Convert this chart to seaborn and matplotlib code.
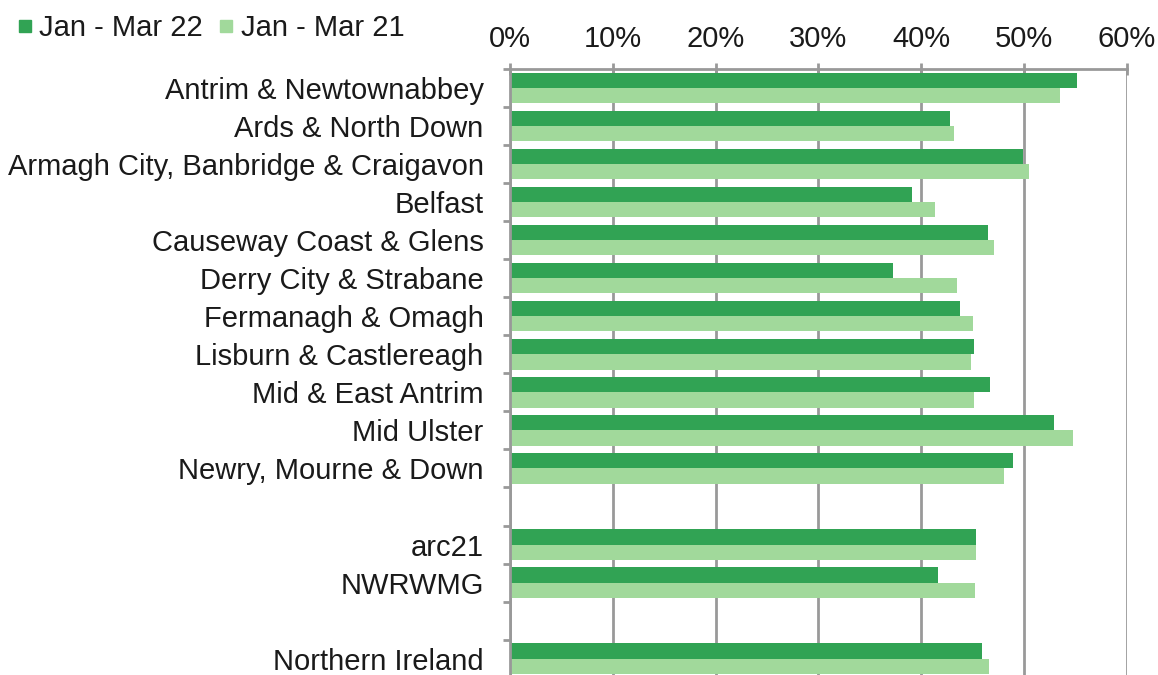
import pandas as pd
import numpy as np
import matplotlib.pyplot as plt
from matplotlib.lines import Line2D
from matplotlib.ticker import FuncFormatter
import seaborn as sns

# data (percent)
areas = ["Antrim & Newtownabbey", "Ards & North Down", "Armagh City, Banbridge & Craigavon",
         "Belfast", "Causeway Coast & Glens", "Derry City & Strabane", "Fermanagh & Omagh",
         "Lisburn & Castlereagh", "Mid & East Antrim", "Mid Ulster", "Newry, Mourne & Down",
         "arc21", "NWRWMG", "Northern Ireland"]
jan_mar_22 = [55.1, 42.8, 49.9, 39.1, 46.5, 37.2, 43.8, 45.1, 46.7, 52.9, 48.9, 45.3, 41.6, 45.9]
jan_mar_21 = [53.5, 43.2, 50.5, 41.3, 47.1, 43.5, 45.0, 44.8, 45.1, 54.8, 48.0, 45.3, 45.2, 46.6]
periods = ["Jan - Mar 22", "Jan - Mar 21"]
colours = ["#31a354", "#a1d99b"]

# blank rows between groups
order = areas[:11] + [" "] + areas[11:13] + ["  "] + areas[13:]

df = pd.DataFrame({
    "area": areas * 2,
    "rate": jan_mar_22 + jan_mar_21,
    "period": [periods[0]] * len(areas) + [periods[1]] * len(areas),
})

sns.set_theme(style="white")
plt.rcParams['font.family'] = ['Liberation Sans', 'DejaVu Sans']
grey = "#999999"
txt = "#1a1a1a"

fig = plt.figure(figsize=(11.58, 6.75), dpi=100)
ax = fig.add_axes([0.4404, -0.004, 0.5328, 0.9018])

sns.barplot(data=df, y="area", x="rate", hue="period", order=order, hue_order=periods,
            palette=colours, saturation=1, width=0.8, linewidth=0, legend=False, ax=ax)

ax.set_xlim(0, 60)
ax.set_ylim(len(order) - 0.5, -0.5)
ax.set_xticks(range(0, 61, 10))
ax.xaxis.set_major_formatter(FuncFormatter(lambda v, p: f"{v:.0f}%"))
ax.xaxis.tick_top()
ax.set_xlabel("")
ax.set_ylabel("")

ax.xaxis.grid(True, color=grey, lw=2)
ax.set_axisbelow(True)
for s in ["right", "bottom"]:
    ax.spines[s].set_visible(False)
for s in ["top", "left"]:
    ax.spines[s].set_color(grey)
    ax.spines[s].set_linewidth(2)

ax.tick_params(axis='x', top=True, direction='inout', length=9, width=2, color=grey,
               labelsize=21, labelcolor=txt, pad=7)
ax.set_yticks(np.arange(-0.5, len(order), 1), minor=True)
ax.tick_params(axis='y', which='major', length=0, pad=19, labelsize=21, labelcolor=txt)
ax.tick_params(axis='y', which='minor', left=True, length=5, width=2, color=grey, direction='out')

handles = [Line2D([], [], marker='s', ls='none', ms=9, color=c) for c in colours]
fig.legend(handles, periods, loc='upper left', bbox_to_anchor=(-0.014, 1.018), ncol=2,
           frameon=False, fontsize=21, handletextpad=0.0, columnspacing=0.3, handlelength=1.0,
           labelcolor=txt)

fig.savefig("out.png", dpi=100)
